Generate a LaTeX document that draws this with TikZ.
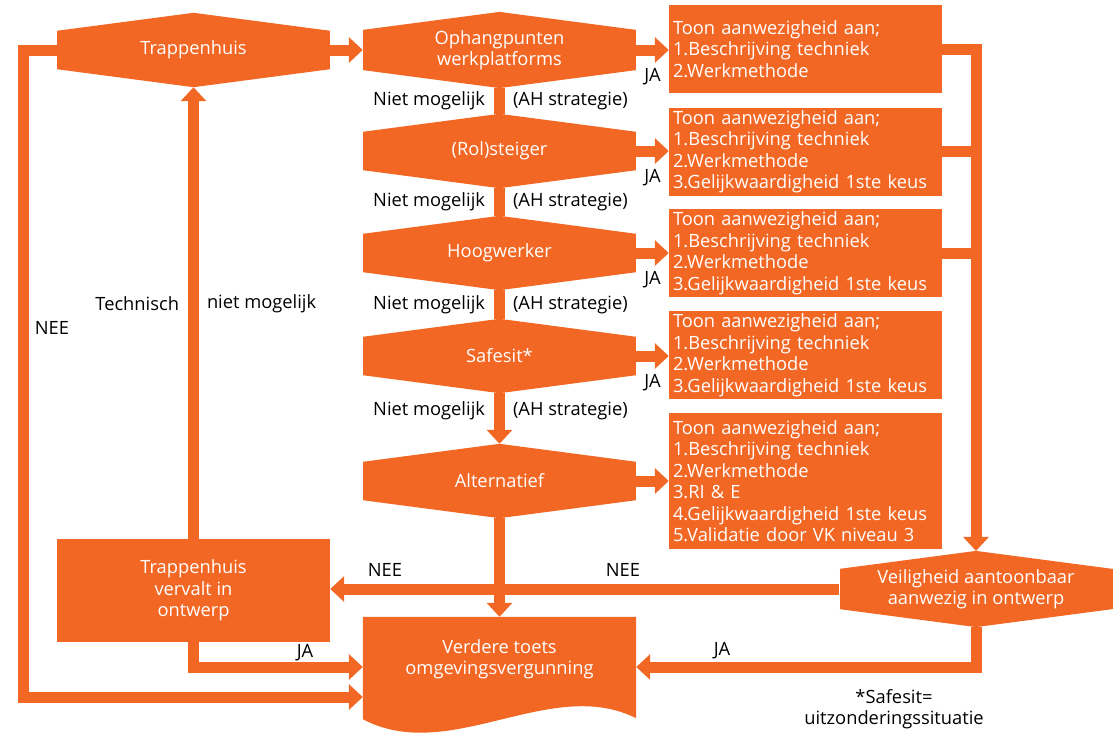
\documentclass[tikz,border=0pt]{standalone}
\usepackage{fontspec}
\setmainfont{Open Sans}
\usetikzlibrary{arrows.meta,backgrounds}
\definecolor{orng}{HTML}{F26724}

% decision: filled rectangle with a peak above and below;
% the peaks are named <name>-top and <name>-bot
\newcommand\decnode[4]{%
  \node[decbox] (#1) at (#2,#3) {#4};
  \fill[orng] (#1.north west) -- ([yshift=18pt]#1.north) coordinate (#1-top) -- (#1.north east) -- cycle;
  \fill[orng] (#1.south west) -- ([yshift=-18pt]#1.south) coordinate (#1-bot) -- (#1.south east) -- cycle;}

\begin{document}
\begin{tikzpicture}[x=1pt,y=-1pt,
  font=\fontsize{18.3}{21.5}\selectfont,
  conn/.style={draw=orng, line width=11pt},
  arr/.style={-{Triangle[length=14pt,width=25pt]}},
  decbox/.style={fill=orng, text=white, minimum width=273pt, minimum height=38pt, inner sep=0pt, align=center},
  tbox/.style={fill=orng, text=white, minimum height=88pt, text width=265pt, inner xsep=4pt, inner ysep=0pt, align=left},
  lbl/.style={text=black, inner sep=0pt}]
\useasboundingbox (0,0) rectangle (1120,739);

% decisions
\decnode{trap}{193.5}{50}{Trappenhuis}
\decnode{oph}{499.5}{50}{Ophangpunten\\werkplatforms}
\decnode{rol}{499.5}{151}{(Rol)steiger}
\decnode{hoog}{499.5}{253}{Hoogwerker}
\decnode{safe}{499.5}{356}{Safesit*}
\decnode{alt}{499.5}{481}{Alternatief}
\decnode{veil}{976}{589}{Veiligheid aantoonbaar\\aanwezig in ontwerp}

% requirement boxes
\node[tbox] (b1) at (805.5,49) {Toon aanwezigheid aan;\\1.Beschrijving techniek\\2.Werkmethode};
\node[tbox] (b2) at (805.5,151.5) {Toon aanwezigheid aan;\\1.Beschrijving techniek\\2.Werkmethode\\3.Gelijkwaardigheid 1ste keus};
\node[tbox] (b3) at (805.5,253) {Toon aanwezigheid aan;\\1.Beschrijving techniek\\2.Werkmethode\\3.Gelijkwaardigheid 1ste keus};
\node[tbox] (b4) at (805.5,355) {Toon aanwezigheid aan;\\1.Beschrijving techniek\\2.Werkmethode\\3.Gelijkwaardigheid 1ste keus};
\node[tbox, minimum height=136pt] (b5) at (805.5,481) {Toon aanwezigheid aan;\\1.Beschrijving techniek\\2.Werkmethode\\3.RI \& E\\4.Gelijkwaardigheid 1ste keus\\5.Validatie door VK niveau 3};

% stairwell dropped
\node[fill=orng, text=white, minimum width=273pt, minimum height=103pt, inner sep=0pt, align=center] (tvv) at (193.5,590.5) {Trappenhuis\\vervalt in\\ontwerp};

% document shape: further permit check
\node[minimum width=273pt, minimum height=84pt, inner sep=0pt, text=white, align=center] (verd) at (499.5,659) {Verdere toets\\omgevingsvergunning};
\begin{scope}[on background layer]
  \fill[orng] (verd.north west) -- (verd.north east) -- ([yshift=-17pt]verd.south east)
    .. controls ([xshift=-86pt,yshift=26pt]verd.south east) and ([xshift=87pt,yshift=-64pt]verd.south west)
    .. ([yshift=-18pt]verd.south west) -- cycle;
\end{scope}

\coordinate (ja) at (0,667);
\coordinate (loop) at (23,697);

% main column
\draw[conn,arr] (trap.east) -- (oph.west);
\draw[conn] (oph-bot) -- node[lbl,anchor=east,xshift=-9pt] (n1) {Niet mogelijk} node[lbl,anchor=west,xshift=8pt] (s1) {(AH strategie)} (rol-top);
\draw[conn] (rol-bot) -- node[lbl,anchor=east,xshift=-9pt] (n2) {Niet mogelijk} node[lbl,anchor=west,xshift=8pt] (s2) {(AH strategie)} (hoog-top);
\draw[conn] (hoog-bot) -- node[lbl,anchor=east,xshift=-9pt] (n3) {Niet mogelijk} node[lbl,anchor=west,xshift=8pt] (s3) {(AH strategie)} (safe-top);
\draw[conn,arr] (safe-bot) -- node[lbl,pos=.35,anchor=east,xshift=-9pt] (n4) {Niet mogelijk} node[lbl,pos=.35,anchor=west,xshift=8pt] (s4) {(AH strategie)} (alt-top);
\draw[conn,arr] (alt-bot) -- (verd.north);

% JA branches to the boxes
\draw[conn,arr] (oph.east) -- node[lbl,yshift=-27pt] (j1) {JA} (b1.west |- oph.east);
\draw[conn,arr] (rol.east) -- node[lbl,yshift=-27pt] (j2) {JA} (b2.west |- rol.east);
\draw[conn,arr] (hoog.east) -- node[lbl,yshift=-27pt] (j3) {JA} (b3.west |- hoog.east);
\draw[conn,arr] (safe.east) -- node[lbl,yshift=-27pt] (j4) {JA} (b4.west |- safe.east);
\draw[conn,arr] (alt.east) -- (b5.west |- alt.east);

% boxes gather into the safety check
\draw[conn,arr] (b1.east) -| (veil-top);
\draw[conn] (b2.east) -- (b2.east -| veil-top);
\draw[conn] (b3.east) -- (b3.east -| veil-top);

% safety check outcomes
\draw[conn,arr] (veil.west) -- (veil.west -| tvv.east);
\node[lbl] (nee2) at (385,570) {NEE};
\node[lbl] (nee3) at (623,570) {NEE};
\draw[conn,arr] (veil-bot) |- (verd.east |- ja);
\node[lbl] (ja6) at (722,651) {JA};

% stairwell loops
\draw[conn,arr] (tvv.north) -- node[lbl,pos=.52,anchor=east,xshift=-9pt] (tn) {Technisch} node[lbl,pos=.52,anchor=west,xshift=8pt] (tm) {niet mogelijk} (trap-bot);
\draw[conn,arr] (tvv.south) |- (verd.west |- ja);
\node[lbl] (ja5) at (305,653) {JA};
\draw[conn,arr] (trap.west) -| (loop) -- (verd.west |- loop);
\node[lbl] (nee1) at (52,328) {NEE};

% footnote
\node[lbl, align=center] (fn) at (894,709) {*Safesit=\\uitzonderingssituatie};
\end{tikzpicture}
\end{document}
